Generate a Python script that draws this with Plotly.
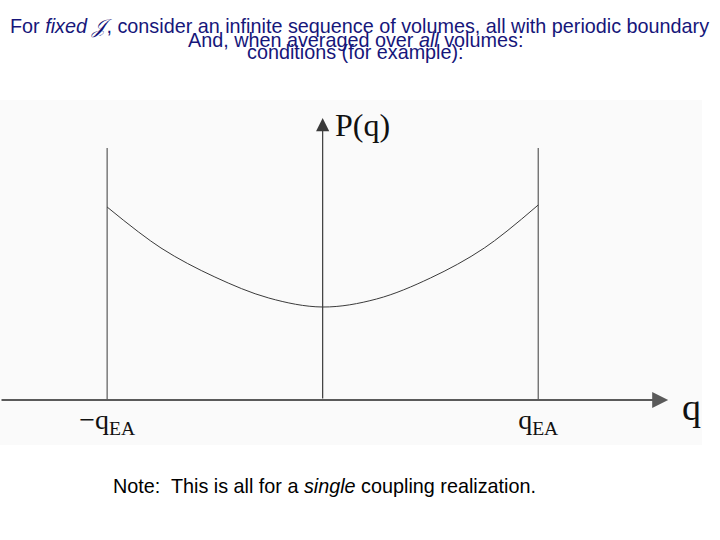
import plotly.graph_objects as go

# Data
q_vals = [-1.0, -0.75, -0.5, -0.25, 0.0, 0.25, 0.5, 0.75, 1.0]
p_vals = [1.93, 1.52, 1.23, 1.02, 0.93, 1.01, 1.22, 1.52, 1.95]
edge_q = [-1.0, 1.0]
edge_top = 2.52
tick_vals = [-1.0, 1.0]
tick_text = ["\u2212q<sub>EA</sub>", "q<sub>EA</sub>"]

title_lines = [
    "For <i>fixed</i> <i>\U0001D4A5</i>, consider an infinite sequence of volumes, all with periodic boundary",
    "And, when averaged over <i>all</i> volumes:",
    "conditions (for example):",
]
note_text = "Note:  This is all for a <i>single</i> coupling realization."

XMIN, XMAX = -1.497, 1.76
YMIN, YMAX = -0.45, 3.0

fig = go.Figure()

# vertical boundary lines at +/- q_EA
for qe in edge_q:
    fig.add_trace(go.Scatter(x=[qe, qe], y=[0, edge_top], mode="lines",
                             line=dict(color="#3a3a3a", width=1), hoverinfo="skip"))

# P(q) curve
fig.add_trace(go.Scatter(x=q_vals, y=p_vals, mode="lines",
                         line=dict(color="#3a3a3a", width=1, shape="spline"),
                         hoverinfo="skip"))

# axes arrows
fig.add_annotation(x=1.603, y=0, ax=XMIN, ay=0, xref="x", yref="y", axref="x", ayref="y",
                   text="", showarrow=True, arrowhead=2, arrowsize=1.6, arrowwidth=2,
                   arrowcolor="#5a5a5a")
fig.add_annotation(x=0, y=2.82, ax=0, ay=0, xref="x", yref="y", axref="x", ayref="y",
                   text="", showarrow=True, arrowhead=2, arrowsize=2.2, arrowwidth=1.2,
                   arrowcolor="#3a3a3a")

# axis labels
fig.add_annotation(x=0.185, y=2.75, xref="x", yref="y", text="P(q)", showarrow=False,
                   font=dict(family="Liberation Serif, Times New Roman, serif", size=32, color="#111"))
fig.add_annotation(x=1.71, y=-0.07, xref="x", yref="y", text="q", showarrow=False,
                   font=dict(family="Liberation Serif, Times New Roman, serif", size=38, color="#111"))

# title lines
title_font = dict(family="Liberation Sans, Arial", size=19.8, color="#16167a")
for txt, yy, xx in zip(title_lines, [1.2116, 1.1739, 1.139], [0.5128, 0.5057, 0.5057]):
    fig.add_annotation(x=xx, y=yy, xref="paper", yref="paper", text=txt, showarrow=False,
                       xanchor="center", yanchor="middle", font=title_font)

# note
fig.add_annotation(x=111 / 702, y=-0.1188, xref="paper", yref="paper", text=note_text,
                   showarrow=False, xanchor="left", yanchor="middle",
                   font=dict(family="Liberation Sans, Arial", size=19.8, color="#000"))

fig.update_layout(
    width=720, height=540,
    margin=dict(l=0, r=18, t=100, b=95),
    paper_bgcolor="white", plot_bgcolor="#fafafa",
    showlegend=False,
    xaxis=dict(range=[XMIN, XMAX], showgrid=False, zeroline=False, showline=False,
               tickvals=tick_vals, ticktext=tick_text, ticks="",
               anchor="free", position=45 / 345,
               tickfont=dict(family="Liberation Serif, Times New Roman, serif", size=28, color="#111")),
    yaxis=dict(range=[YMIN, YMAX], showgrid=False, zeroline=False, showline=False,
               showticklabels=False, ticks=""),
)

fig.write_html("out.html", config={"displayModeBar": False},
               post_script="document.body.style.margin='0';document.body.style.overflow='hidden';")
